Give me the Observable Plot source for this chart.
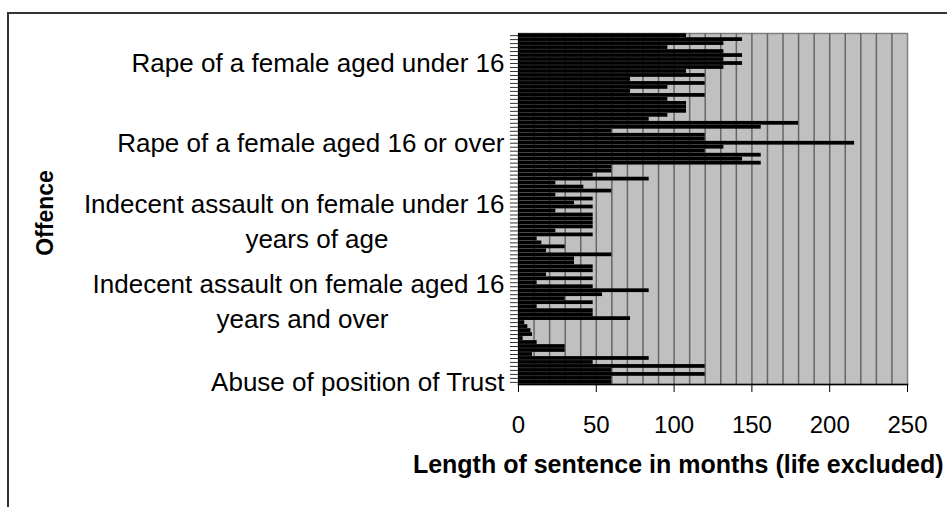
<!DOCTYPE html>
<html><head><meta charset="utf-8">
<script src="https://cdn.jsdelivr.net/npm/d3@7"></script>
<script src="https://cdn.jsdelivr.net/npm/@observablehq/plot@0.6"></script>
<style>
body{margin:0;background:#fff;}
#wrap{position:relative;width:947px;height:507px;overflow:hidden;background:#fff;}
#border{position:absolute;left:7px;top:12px;width:960px;height:520px;border:2px solid #333;box-sizing:border-box;}
#chart{position:absolute;left:0;top:0;}
</style></head><body>
<div id="wrap"><div id="border"></div><div id="chart"></div></div>
<script>
// Offence groups (top to bottom) and their axis labels
const offenceLabels = [
  "Rape of a female aged under 16",
  "Rape of a female aged 16 or over",
  "Indecent assault on female under 16\nyears of age",
  "Indecent assault on female aged 16\nyears and over",
  "Abuse of position of Trust"
];
// Sentence lengths in months, one value per case, listed top to bottom
const rapeUnder16 = [108,144,132,96,132,144,132,144,132,108,120,72,120,96,72,120,96,108,108,108,96];
const rape16Over = [84,180,156,60,120,120,216,132,120,156,144,156,60,60,48,84];
const indecentUnder16 = [24,42,60,24,48,36,48,24,48,48,48,48,24,48,12,15,30,18,60,36];
const indecentOver16 = [36,48,48,18,48,12,48,84,54,30,48,12,48,48,72,4,6,8,9,3,12];
const abuseTrust = [30,30,9,84,48,120,60,120,60,60];
const xTicks = [0,50,100,150,200,250];
const gridValues = [10,20,30,40,50,60,70,80,90,100,110,120,130,140,150,160,170,180,190,200,210,220,230,240];

const groups = [rapeUnder16, rape16Over, indecentUnder16, indecentOver16, abuseTrust];
const rows = [];
groups.forEach((vals, g) => vals.forEach(v => rows.push({row: rows.length, label: offenceLabels[g], months: v})));
const N = rows.length;
const labelRows = rows.filter(d => (N - 1 - d.row) % 20 === 0);
const single = labelRows.filter(d => !d.label.includes("\n"));
const multi = labelRows.filter(d => d.label.includes("\n"));

const font = "'Liberation Sans', Arial, sans-serif";
const chart = Plot.plot({
  width: 947,
  height: 507,
  marginLeft: 518,
  marginRight: 40,
  marginTop: 33,
  marginBottom: 123,
  style: {fontFamily: font, background: "transparent", color: "#000"},
  x: {domain: [0, 250], axis: null},
  y: {type: "band", domain: rows.map(d => d.row), padding: 0.06, axis: null},
  marks: [
    Plot.frame({fill: "#c0c0c0", stroke: "#808080", strokeWidth: 1.5}),
    Plot.ruleX(gridValues, {stroke: "#666", strokeWidth: 1.5}),
    Plot.barX(rows, {x: "months", y: "row", fill: "#000"}),
    Plot.axisY({tickSize: 8, tickFormat: () => "", label: null, stroke: "#333", strokeWidth: 1}),
    Plot.ruleX([0], {stroke: "#000", strokeWidth: 1}),
    Plot.axisX({ticks: xTicks, tickSize: 8, tickPadding: 23, fontSize: 24, label: null, stroke: "#000"}),
    Plot.frame({anchor: "bottom", stroke: "#000", strokeWidth: 1.5}),
    Plot.text(single, {y: "row", text: "label", frameAnchor: "left", textAnchor: "end", dx: -14, fontSize: 26, fill: "#000"}),
    Plot.text(multi, {y: "row", text: d => d.label.split("\n")[0], frameAnchor: "left", textAnchor: "end", dx: -14, dy: -18, fontSize: 26, fill: "#000"}),
    Plot.text(multi, {y: "row", text: d => d.label.split("\n")[1], frameAnchor: "left", textAnchor: "end", dx: -130, dy: 17, fontSize: 26, fill: "#000"}),
    Plot.text(["Length of sentence in months (life excluded)"], {frameAnchor: "bottom-right", textAnchor: "end", dx: 36, dy: 88, fontSize: 25, fontWeight: "bold", fill: "#000"}),
    Plot.text(["Offence"], {frameAnchor: "left", textAnchor: "middle", rotate: -90, dx: -473, dy: 4, fontSize: 23, fontWeight: "bold", fill: "#000"})
  ]
});
document.getElementById("chart").appendChild(chart);
</script>
</body></html>
